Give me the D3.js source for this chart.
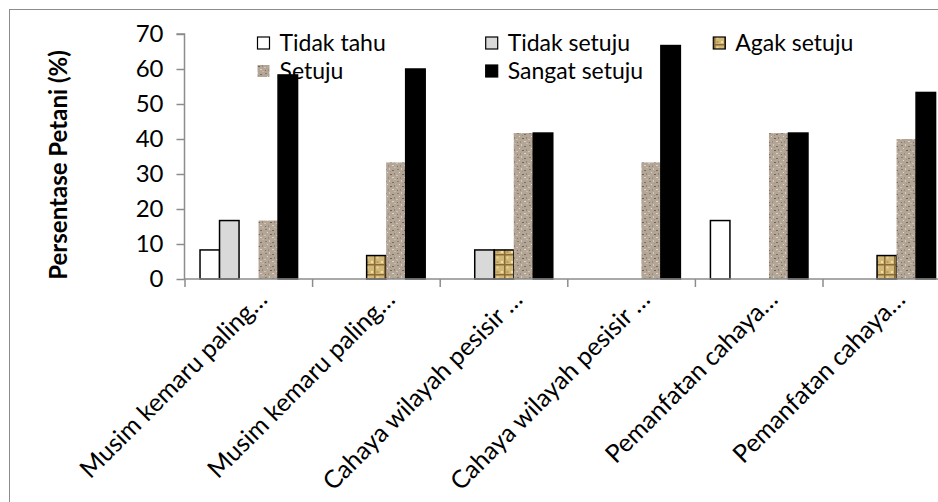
<!DOCTYPE html>
<html><head><meta charset="utf-8">
<script src="https://cdn.jsdelivr.net/npm/d3@7/dist/d3.min.js"></script>
<style>
html,body{margin:0;padding:0;background:#fff;}
svg{display:block;font-family:Lato,"Open Sans",sans-serif;}
</style></head>
<body>
<svg id="chart" width="938" height="502"></svg>
<script>
const categories = ["Musim kemaru paling…","Musim kemaru paling…","Cahaya wilayah pesisir …","Cahaya wilayah pesisir …","Pemanfatan cahaya…","Pemanfatan cahaya…"];
const seriesNames = ["Tidak tahu","Tidak setuju","Agak setuju","Setuju","Sangat setuju"];
const tidakTahu    = [8.3, 0, 0, 0, 16.7, 0];
const tidakSetuju  = [16.7, 0, 8.3, 0, 0, 0];
const agakSetuju   = [0, 6.7, 8.3, 0, 0, 6.7];
const setuju       = [16.7, 33.3, 41.7, 33.3, 41.7, 40.0];
const sangatSetuju = [58.3, 60.0, 41.7, 66.7, 41.7, 53.3];
const yTicks = [0,10,20,30,40,50,60,70];
const yTitle = "Persentase Petani (%)";

const seriesValues = [tidakTahu, tidakSetuju, agakSetuju, setuju, sangatSetuju];

const svg = d3.select("#chart");
svg.append("rect").attr("width",938).attr("height",502).attr("fill","#fff");

const defs = svg.append("defs");
// granite texture for "Setuju"
const pg = defs.append("pattern").attr("id","granite").attr("patternUnits","userSpaceOnUse").attr("width",12).attr("height",12);
pg.append("rect").attr("width",12).attr("height",12).attr("fill","#b3a697");
const speck = [[1,1,2,1,"#8c7e70"],[5,0,1,2,"#d6cbbf"],[8,2,2,1,"#7a6d60"],[3,4,1,1,"#e4dbd0"],[10,5,1,2,"#91857a"],[0,7,2,1,"#cfc3b6"],[6,6,2,1,"#6f6357"],[4,9,1,2,"#9a8d80"],[8,9,2,1,"#ddd3c8"],[1,10,1,1,"#7f7265"],[10,11,2,1,"#c5b9ac"],[6,3,1,1,"#a09385"]];
speck.forEach(s=>pg.append("rect").attr("x",s[0]).attr("y",s[1]).attr("width",s[2]).attr("height",s[3]).attr("fill",s[4]));
// woven gold texture for "Agak setuju"
const pa = defs.append("pattern").attr("id","gold").attr("patternUnits","userSpaceOnUse").attr("width",10).attr("height",10);
pa.append("rect").attr("width",10).attr("height",10).attr("fill","#d2b777");
pa.append("rect").attr("x",4).attr("y",0).attr("width",1.5).attr("height",10).attr("fill","#8a6d38");
pa.append("rect").attr("x",0).attr("y",4).attr("width",10).attr("height",1.5).attr("fill","#8a6d38");
pa.append("rect").attr("x",1).attr("y",1).attr("width",2).attr("height",2).attr("fill","#f0dfa8");
pa.append("rect").attr("x",6.5).attr("y",6.5).attr("width",2).attr("height",2).attr("fill","#e8d59a");
pa.append("rect").attr("x",6.5).attr("y",1).attr("width",2).attr("height",2).attr("fill","#b89a5a");

const fills = ["#ffffff","#d9d9d9","url(#gold)","url(#granite)","#000000"];
const strokes = ["#000","#000","#000","none","#000"];

// outer border
svg.append("rect").attr("x",9.5).attr("y",9.5).attr("width",1000).attr("height",600)
  .attr("fill","none").attr("stroke","#8c8c8c").attr("stroke-width",1);

const x0 = 185, step = 127.6;
const x = d3.scaleBand().domain(d3.range(categories.length)).range([x0, x0+step*categories.length]).paddingInner(0).paddingOuter(0);
const xs = d3.scaleBand().domain(d3.range(seriesNames.length)).range([0, x.bandwidth()]).paddingInner(0).paddingOuter(0.77);
const y = d3.scaleLinear().domain([0,70]).range([279,34]);

// bars
seriesValues.forEach((vals, si) => {
  const pts = vals.map((v,i)=>({i, v})).filter(d => d.v > 0);
  svg.append("g").selectAll("rect").data(pts).join("rect")
    .attr("x", d => x(d.i) + xs(si))
    .attr("y", d => y(d.v))
    .attr("width", xs.bandwidth())
    .attr("height", d => y(0) - y(d.v))
    .attr("fill", fills[si])
    .attr("stroke", strokes[si])
    .attr("stroke-width", 1.5);
});

// y axis
const yAxis = d3.axisLeft(y).tickValues(yTicks).tickSize(8).tickPadding(13).tickFormat(d3.format("d"));
const gy = svg.append("g").attr("transform","translate(184.5,0)").call(yAxis);
gy.select(".domain").attr("stroke","#8c8c8c").attr("stroke-width",1.5).attr("d","M-8,"+y(70)+"H0V"+y(0));
gy.selectAll(".tick line").attr("stroke","#8c8c8c").attr("stroke-width",1.5);
gy.selectAll(".tick text").attr("font-size",24).attr("fill","#000").attr("font-family","Lato");

// x axis
const gx = svg.append("g").attr("transform","translate(0,279)");
gx.append("line").attr("x1",184).attr("x2",938).attr("y1",0).attr("y2",0).attr("stroke","#8c8c8c").attr("stroke-width",1.5);
const tickPos = d3.range(categories.length+1).map(i => x0 + i*step);
gx.selectAll("line.t").data(tickPos).join("line").attr("class","t")
  .attr("x1",d=>d).attr("x2",d=>d).attr("y1",0).attr("y2",8).attr("stroke","#8c8c8c").attr("stroke-width",1.5);
gx.selectAll("text").data(categories).join("text")
  .attr("transform",(d,i)=>`translate(${x(i)+x.bandwidth()/2+20},22) rotate(-45)`)
  .attr("text-anchor","end").attr("font-size",25).attr("fill","#000").text(d=>d);

// y title
svg.append("text").attr("transform","translate(67,165) rotate(-90)").attr("text-anchor","middle")
  .attr("font-size",24).attr("font-weight","bold").attr("fill","#000").text(yTitle);

// legend
const legPos = [[257.5,43],[485.7,43],[713.3,43],[257.5,71],[485.7,71]];
const lg = svg.append("g");
seriesNames.forEach((n,i)=>{
  const [lx,ly] = legPos[i];
  lg.append("rect").attr("x",lx).attr("y",ly-6).attr("width",12).attr("height",12)
    .attr("fill",fills[i]).attr("stroke", i===3 ? "none" : "#000").attr("stroke-width",1.2);
  lg.append("text").attr("x",lx+22).attr("y",ly).attr("dy","0.35em").attr("font-size",23).attr("fill","#000").text(n);
});
</script>
</body></html>
